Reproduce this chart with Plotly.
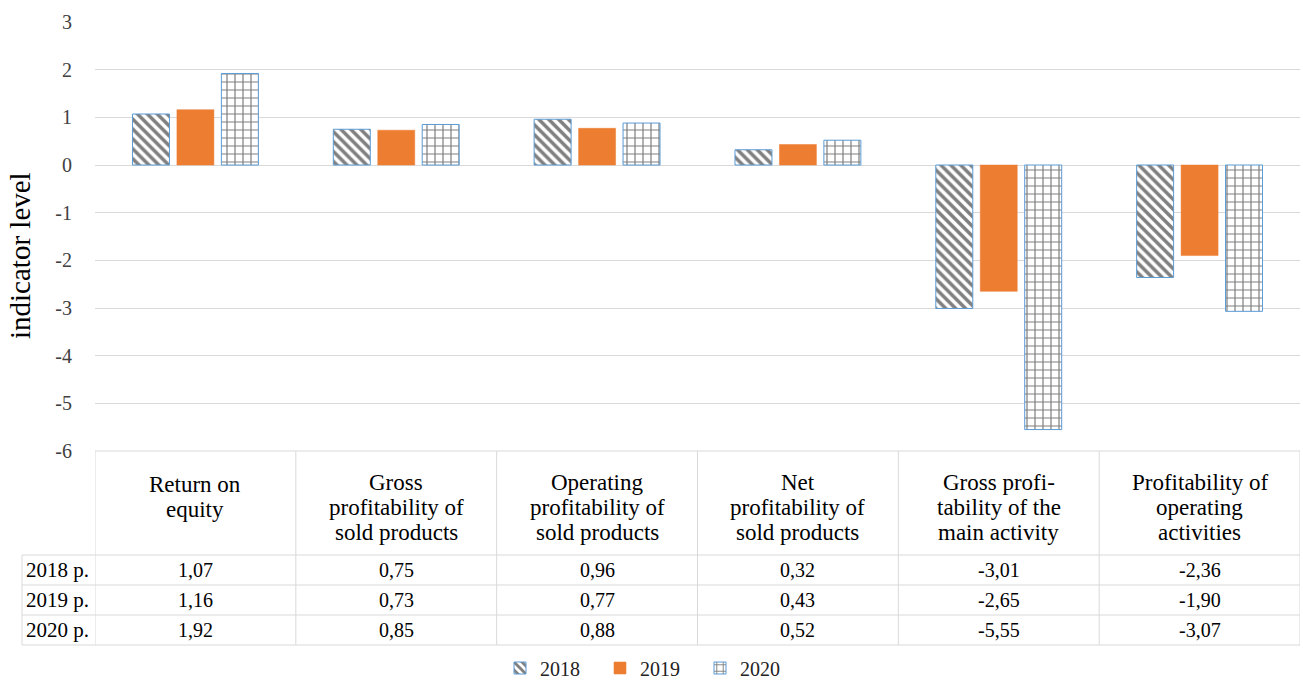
import plotly.graph_objects as go

# ---- data ----
categories = ["Return on equity", "Gross profitability of sold products",
              "Operating profitability of sold products", "Net profitability of sold products",
              "Gross profitability of the main activity", "Profitability of operating activities"]
header_labels = ["Return on<br>equity", "Gross<br>profitability of<br>sold products",
                 "Operating<br>profitability of<br>sold products", "Net<br>profitability of<br>sold products",
                 "Gross profi-<br>tability of the<br>main activity", "Profitability of<br>operating<br>activities"]
years = ["2018", "2019", "2020"]
row_labels = ["2018 p.", "2019 p.", "2020 p."]
values_2018 = [1.07, 0.75, 0.96, 0.32, -3.01, -2.36]
values_2019 = [1.16, 0.73, 0.77, 0.43, -2.65, -1.90]
values_2020 = [1.92, 0.85, 0.88, 0.52, -5.55, -3.07]
y_ticks = [3, 2, 1, 0, -1, -2, -3, -4, -5, -6]
y_ticktext = ["3", "2", "1", "0", "-1", "-2", "-3", "-4", "-5", "-6"]

series = [values_2018, values_2019, values_2020]

FONT = "Liberation Serif"
W, H = 1303, 680
ML, MR, MT, MB = 95, 3, 22, 229
PH = H - MT - MB
PW = W - ML - MR


def py(pix):
    """pixel row -> paper y"""
    return (H - MB - pix) / PH


def px(pix):
    return (pix - ML) / PW


fig = go.Figure()
styles = [
    dict(color="white", line=dict(color="#5B9BD5", width=1),
         pattern=dict(shape="\\", fgcolor="black", bgcolor="white", size=7, solidity=0.5)),
    dict(color="#ED7D31", line=dict(color="#ED7D31", width=0.5)),
    dict(color="white", line=dict(color="#5B9BD5", width=1),
         pattern=dict(shape="+", fgcolor="black", bgcolor="white", size=8, solidity=0.28)),
]
idx = list(range(len(categories)))
for name, vals, st in zip(years, series, styles):
    fig.add_trace(go.Bar(x=idx, y=vals, name=name, marker=st))

shapes = []
grid = "#d9d9d9"
# table horizontal lines
shapes.append(dict(type="line", xref="x", yref="paper", x0=-0.5, x1=5.5, y0=py(451), y1=py(451),
                   line=dict(color=grid, width=1)))
for r in [555, 585, 615, 645]:
    shapes.append(dict(type="line", xref="paper", yref="paper", x0=px(22), x1=1, y0=py(r), y1=py(r),
                       line=dict(color=grid, width=1)))
# vertical lines
for i in range(len(categories) + 1):
    shapes.append(dict(type="line", xref="x", yref="paper", x0=i - 0.5, x1=i - 0.5,
                       y0=py(451), y1=py(645), line=dict(color=grid, width=1)))
shapes.append(dict(type="line", xref="paper", yref="paper", x0=px(22), x1=px(22),
                   y0=py(555), y1=py(645), line=dict(color=grid, width=1)))

ann = []
LINE_H = 25
for i, lab in enumerate(header_labels):
    lines = lab.split("<br>")
    n = len(lines)
    center = 497 + (n - 2) * 10
    for k, t in enumerate(lines):
        yy = center + (k - (n - 1) / 2) * LINE_H
        ann.append(dict(x=i, y=py(yy), xref="x", yref="paper", text=t, showarrow=False,
                        font=dict(family=FONT, size=23, color="black"), align="center",
                        yanchor="middle"))
row_y = [570, 600, 630]
for r, (rl, vals) in enumerate(zip(row_labels, series)):
    ann.append(dict(x=px(24), y=py(row_y[r]), xref="paper", yref="paper", text=rl, showarrow=False,
                    xanchor="left", yanchor="middle", font=dict(family=FONT, size=21, color="black")))
    for i, v in enumerate(vals):
        ann.append(dict(x=i, y=py(row_y[r]), xref="x", yref="paper",
                        text=f"{v:.2f}".replace(".", ","), showarrow=False, yanchor="middle",
                        font=dict(family=FONT, size=20, color="black")))
ann.append(dict(x=px(20), y=py(256), xref="paper", yref="paper", text="indicator level",
                textangle=-90, showarrow=False, xanchor="center", yanchor="middle",
                font=dict(family=FONT, size=29, color="black")))

fig.update_layout(
    width=W, height=H,
    margin=dict(l=ML, r=MR, t=MT, b=MB, autoexpand=False),
    paper_bgcolor="white", plot_bgcolor="white",
    barmode="group", bargap=0.336, bargroupgap=0.168,
    shapes=shapes, annotations=ann,
    legend=dict(orientation="h", x=px(650), xanchor="center", y=py(668), yanchor="middle",
                font=dict(family=FONT, size=20, color="#222222"), entrywidth=55,
                traceorder="normal"),
    showlegend=True,
    font=dict(family=FONT),
)
fig.update_xaxes(type="category", range=[-0.5, 5.5], showticklabels=False, showgrid=False,
                 zeroline=False, showline=False, ticks="")
fig.update_yaxes(range=[-6, 3], tickvals=y_ticks, ticktext=y_ticktext, showgrid=True,
                 gridcolor=grid, gridwidth=1,
                 zeroline=False, showline=False, ticks="outside", ticklen=18,
                 tickcolor="rgba(0,0,0,0)", tickfont=dict(family=FONT, size=20, color="#404040"))

fig.write_html("out.html", config={"displayModeBar": False},
               post_script="document.body.style.margin='0';")
